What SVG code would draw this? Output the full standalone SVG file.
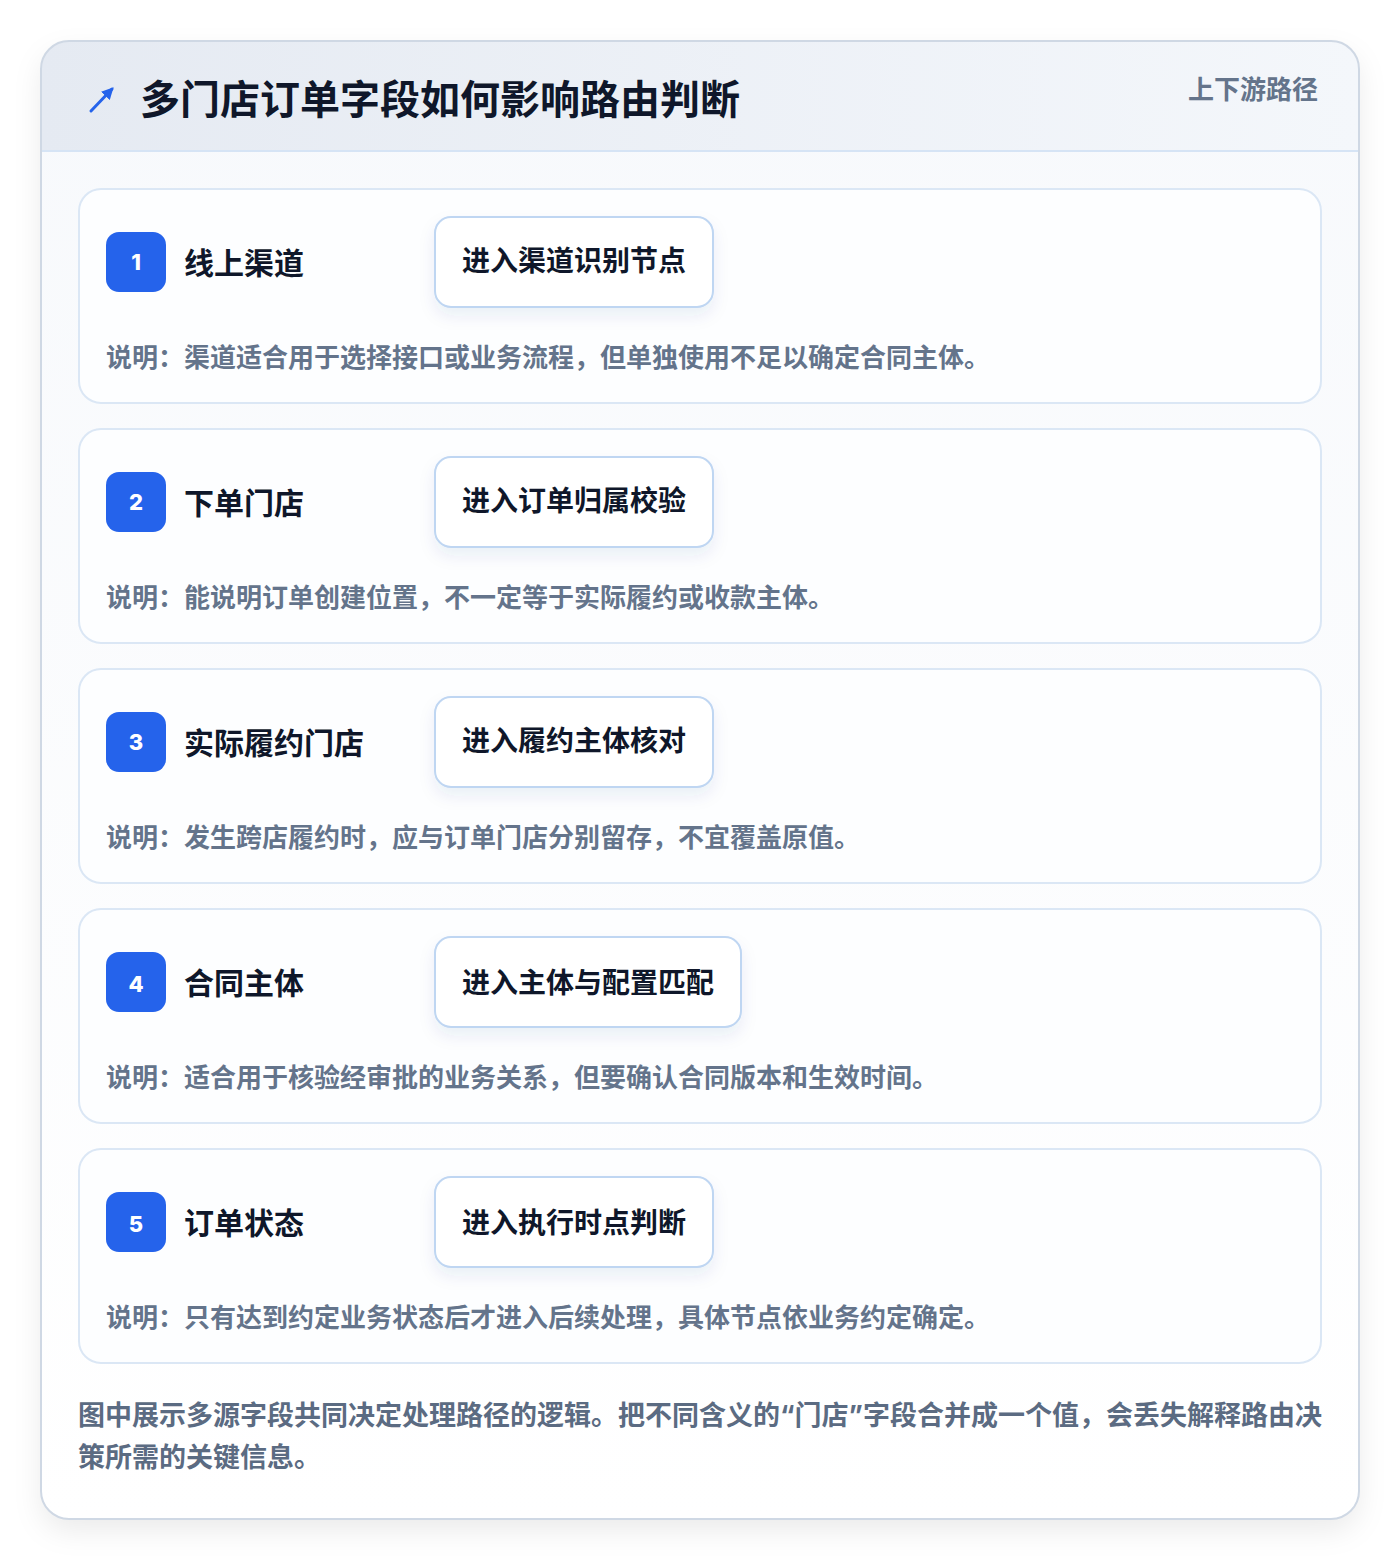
<svg xmlns="http://www.w3.org/2000/svg" width="1400" height="1560" viewBox="0 0 1400 1560">
<defs>
<linearGradient id="hdr" x1="0" y1="0" x2="1" y2="0">
<stop offset="0" stop-color="#e5eaf2"/>
<stop offset="1" stop-color="#f4f7fb"/>
</linearGradient>
<linearGradient id="body" x1="0" y1="0" x2="0" y2="1">
<stop offset="0" stop-color="#f7f9fc"/>
<stop offset="1" stop-color="#ffffff"/>
</linearGradient>
<filter id="sh" x="-10%" y="-10%" width="120%" height="120%">
<feDropShadow dx="0" dy="12" stdDeviation="14" flood-color="#0f172a" flood-opacity="0.08"/>
</filter>
<filter id="bsh" x="-20%" y="-30%" width="140%" height="180%">
<feDropShadow dx="0" dy="8" stdDeviation="8" flood-color="#1e3a8a" flood-opacity="0.08"/>
</filter>
<clipPath id="cardclip"><rect x="41" y="41" width="1318" height="1478" rx="28"/></clipPath>
<marker id="ah" viewBox="0 0 10 10" refX="8" refY="5" markerWidth="4" markerHeight="4" orient="auto"><path d="M0,0 L10,5 L0,10 z" fill="#2563eb"/></marker>
</defs>
<style>
text{font-family:Inter,"Noto Sans CJK SC","Noto Sans",sans-serif;font-weight:700}
.title{font-size:40px;fill:#0f172a}
.tag{font-size:26px;fill:#64748b}
.row{fill:#fdfeff;stroke:#dbe7f5;stroke-width:2}
.badge{fill:#2563eb}
.num{font-size:22px;fill:#ffffff;text-anchor:middle;font-weight:800}
.lbl{font-size:30px;fill:#0f172a}
.box{fill:#ffffff;stroke:#bfd6f2;stroke-width:2}
.btxt{font-size:28px;fill:#0f172a;text-anchor:middle}
.desc{font-size:26px;fill:#64748b}
.foot{font-size:27px;fill:#5b6b82}
</style>
<rect width="1400" height="1560" fill="#ffffff"/>
<g id="card">
<rect x="41" y="41" width="1318" height="1478" rx="28" fill="url(#body)" filter="url(#sh)"/>
<g clip-path="url(#cardclip)">
<rect x="41" y="41" width="1318" height="110" fill="url(#hdr)"/>
<line x1="41" y1="151" x2="1359" y2="151" stroke="#d6e4f5" stroke-width="2"/>
</g>
<rect x="41" y="41" width="1318" height="1478" rx="28" fill="none" stroke="#cfd8e4" stroke-width="2"/>
</g>
<g id="header">
<line x1="91" y1="111" x2="112" y2="89" stroke="#2563eb" stroke-width="3" stroke-linecap="round" marker-end="url(#ah)"/>
<text class="title" x="140" y="114">多门店订单字段如何影响路由判断</text>
<text class="tag" x="1318" y="99" text-anchor="end">上下游路径</text>
</g>
<g id="row1">
<rect class="row" x="79" y="189" width="1242" height="214" rx="22"/>
<rect class="badge" x="106" y="232" width="60" height="60" rx="13"/>
<text class="num" x="136" y="270">1</text>
<text class="lbl" x="184" y="274">线上渠道</text>
<rect class="box" x="435" y="217" width="278" height="90" rx="16" filter="url(#bsh)"/>
<text class="btxt" x="574" y="271">进入渠道识别节点</text>
<text class="desc" x="106" y="367">说明：渠道适合用于选择接口或业务流程，但单独使用不足以确定合同主体。</text>
</g>
<g id="row2">
<rect class="row" x="79" y="429" width="1242" height="214" rx="22"/>
<rect class="badge" x="106" y="472" width="60" height="60" rx="13"/>
<text class="num" x="136" y="510">2</text>
<text class="lbl" x="184" y="514">下单门店</text>
<rect class="box" x="435" y="457" width="278" height="90" rx="16" filter="url(#bsh)"/>
<text class="btxt" x="574" y="511">进入订单归属校验</text>
<text class="desc" x="106" y="607">说明：能说明订单创建位置，不一定等于实际履约或收款主体。</text>
</g>
<g id="row3">
<rect class="row" x="79" y="669" width="1242" height="214" rx="22"/>
<rect class="badge" x="106" y="712" width="60" height="60" rx="13"/>
<text class="num" x="136" y="750">3</text>
<text class="lbl" x="184" y="754">实际履约门店</text>
<rect class="box" x="435" y="697" width="278" height="90" rx="16" filter="url(#bsh)"/>
<text class="btxt" x="574" y="751">进入履约主体核对</text>
<text class="desc" x="106" y="847">说明：发生跨店履约时，应与订单门店分别留存，不宜覆盖原值。</text>
</g>
<g id="row4">
<rect class="row" x="79" y="909" width="1242" height="214" rx="22"/>
<rect class="badge" x="106" y="952" width="60" height="60" rx="13"/>
<text class="num" x="136" y="992">4</text>
<text class="lbl" x="184" y="994">合同主体</text>
<rect class="box" x="435" y="937" width="306" height="90" rx="16" filter="url(#bsh)"/>
<text class="btxt" x="588" y="993">进入主体与配置匹配</text>
<text class="desc" x="106" y="1087">说明：适合用于核验经审批的业务关系，但要确认合同版本和生效时间。</text>
</g>
<g id="row5">
<rect class="row" x="79" y="1149" width="1242" height="214" rx="22"/>
<rect class="badge" x="106" y="1192" width="60" height="60" rx="13"/>
<text class="num" x="136" y="1232">5</text>
<text class="lbl" x="184" y="1234">订单状态</text>
<rect class="box" x="435" y="1177" width="278" height="90" rx="16" filter="url(#bsh)"/>
<text class="btxt" x="574" y="1233">进入执行时点判断</text>
<text class="desc" x="106" y="1327">说明：只有达到约定业务状态后才进入后续处理，具体节点依业务约定确定。</text>
</g>
<g id="connectors"></g>
<g id="footer">
<text class="foot" x="78" y="1425">图中展示多源字段共同决定处理路径的逻辑。把不同含义的“门店”字段合并成一个值，会丢失解释路由决</text>
<text class="foot" x="78" y="1467">策所需的关键信息。</text>
</g>
</svg>
